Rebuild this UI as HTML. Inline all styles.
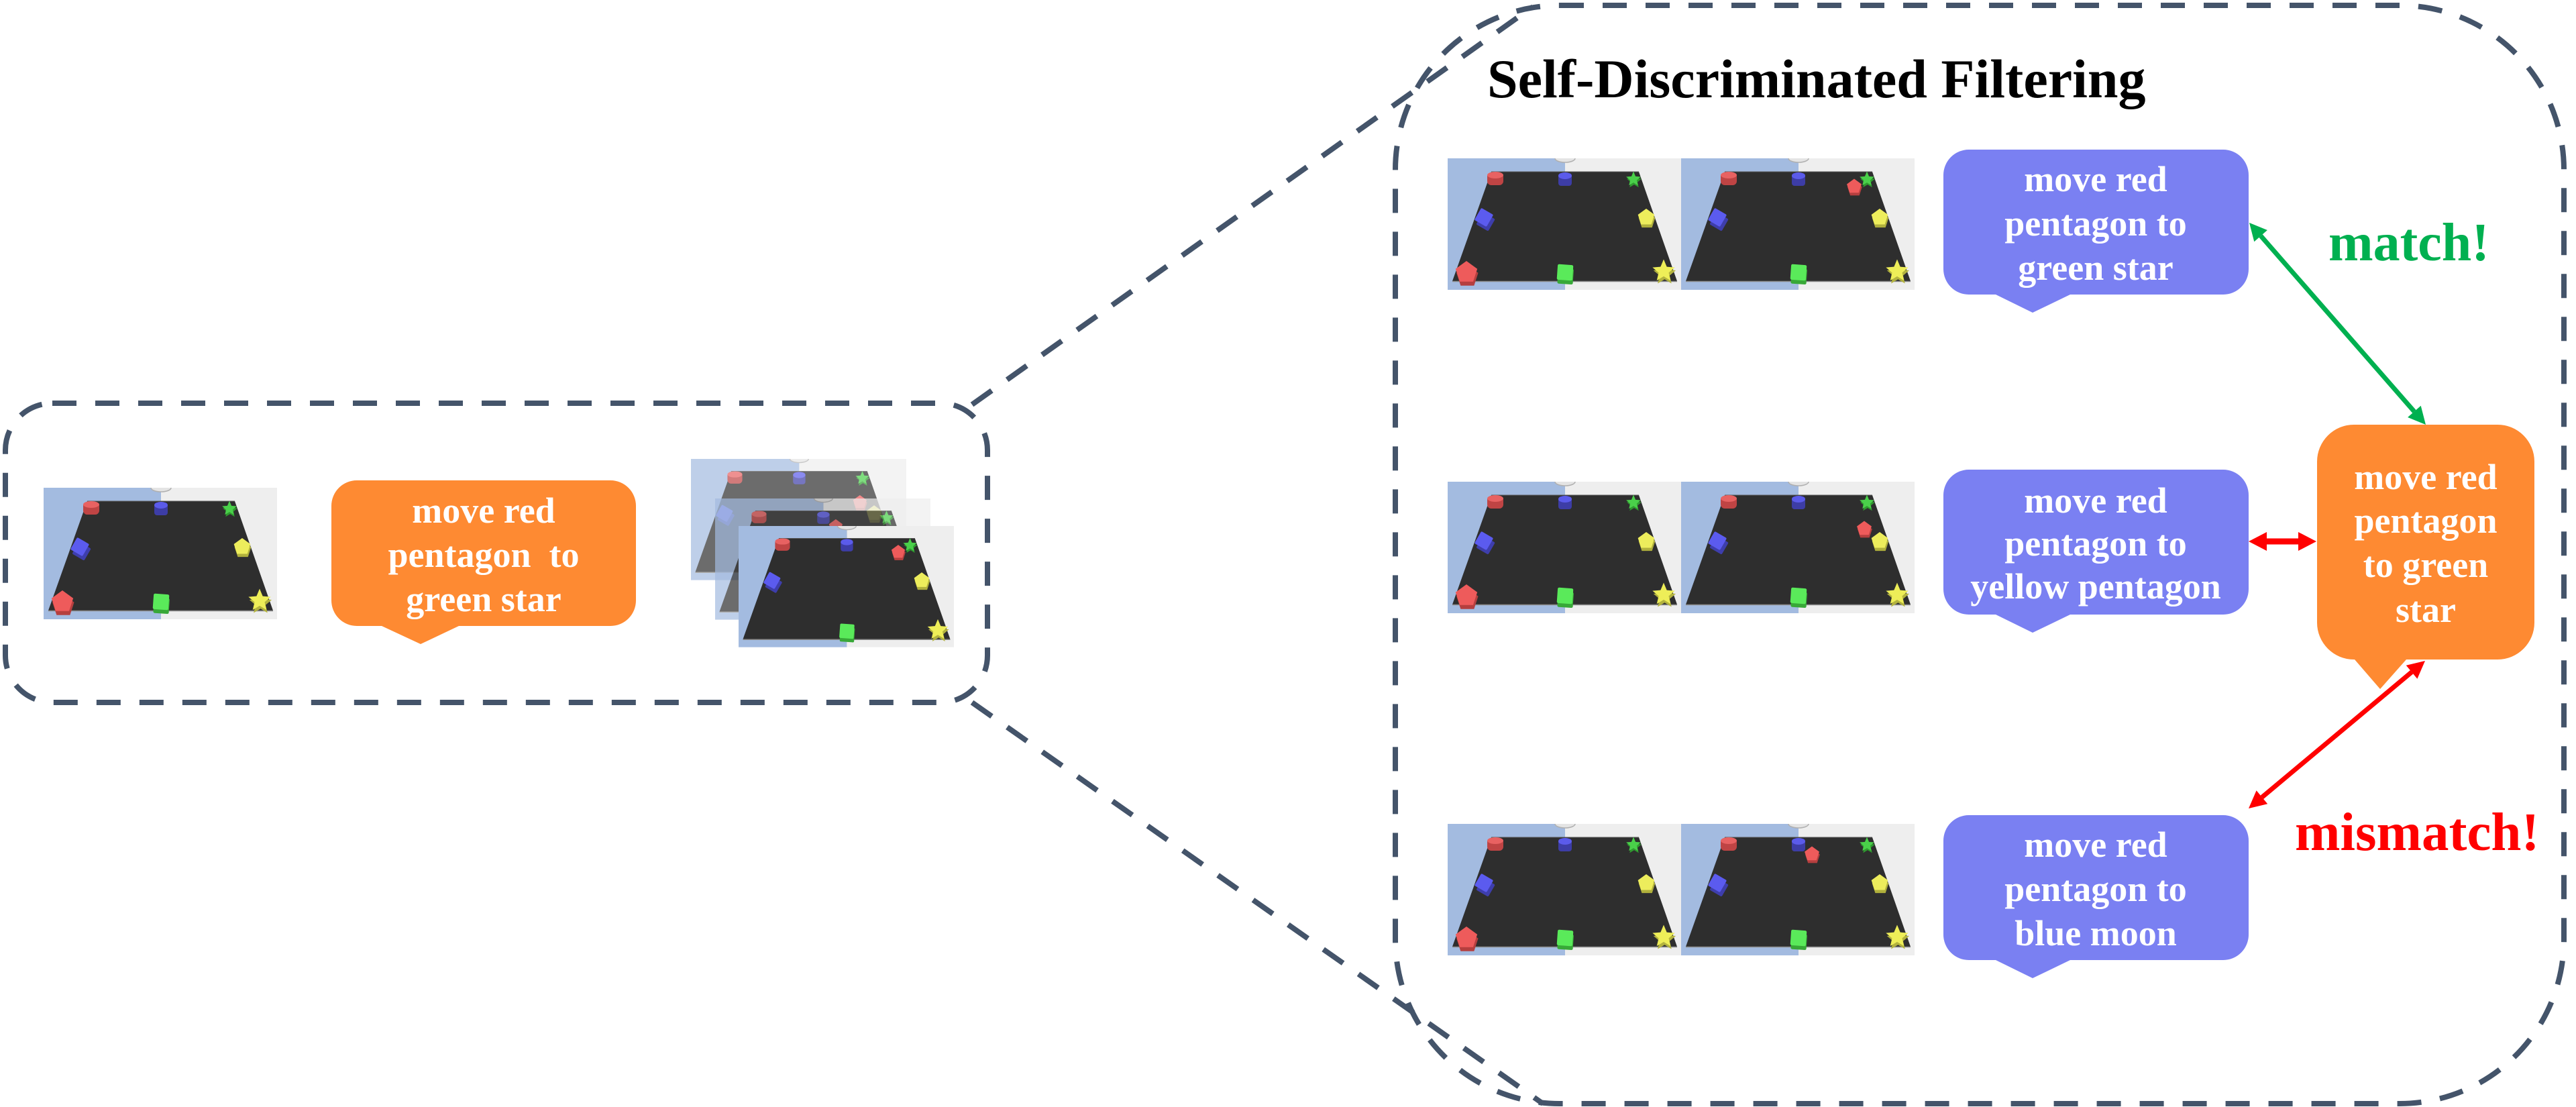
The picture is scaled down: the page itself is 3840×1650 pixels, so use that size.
<!DOCTYPE html>
<html>
<head>
<meta charset="utf-8">
<style>
  html, body { margin: 0; padding: 0; background: #ffffff; }
  body { width: 3840px; height: 1650px; overflow: hidden; }
  svg { display: block; }
  .t { font-family: "Liberation Serif", "Times New Roman", serif; font-weight: bold; }
  .w { fill: #ffffff; font-size: 54px; text-anchor: middle; }
</style>
</head>
<body>
<svg width="3840" height="1650" viewBox="0 0 3840 1650" xmlns="http://www.w3.org/2000/svg">
  <defs>
    <polygon id="pg" points="0,-10 9.51,-3.09 5.88,8.09 -5.88,8.09 -9.51,-3.09"/>
    <polygon id="st" points="0,-10 2.65,-3.64 9.51,-3.09 4.28,1.39 5.88,8.09 0,4.5 -5.88,8.09 -4.28,1.39 -9.51,-3.09 -2.65,-3.64"/>
    <rect id="cb" x="-8" y="-8" width="16" height="16" rx="1.5"/>
    <g id="rp">
      <use href="#pg" fill="#b53f3f" transform="translate(0.8,3.5)"/>
      <use href="#pg" fill="#ee5b5b"/>
    </g>
    <symbol id="sc" viewBox="0 0 348 196">
      <rect x="0" y="0" width="175" height="196" fill="#a3bbe0"/>
      <rect x="175" y="0" width="173" height="196" fill="#eeeeee"/>
      <ellipse cx="175" cy="0" rx="15" ry="6" fill="#e4e4e4" stroke="#b0b0b0" stroke-width="1.5"/>
      <polygon points="65,20 285,20 342,183 7,183" fill="#2e2e2e"/>
      <line x1="65" y1="20" x2="285" y2="20" stroke="#5a5a5a" stroke-width="1"/>
      <line x1="7" y1="183.5" x2="342" y2="183.5" stroke="#8c8c8c" stroke-width="1.6"/>
      <!-- red cylinder -->
      <g transform="translate(71,30)">
        <rect x="-12" y="-9" width="24" height="19" rx="6" fill="#bf4444"/>
        <ellipse cx="0" cy="-5" rx="12" ry="5" fill="#e86262"/>
      </g>
      <!-- blue cylinder -->
      <g transform="translate(175,31)">
        <rect x="-10" y="-9" width="20" height="19" rx="4" fill="#3d3da6"/>
        <ellipse cx="0" cy="-5" rx="10" ry="5" fill="#5b5bea"/>
      </g>
      <!-- green star -->
      <g transform="translate(277,31)">
        <use href="#st" fill="#2f9a2f" transform="translate(1,3) scale(1.15)"/>
        <use href="#st" fill="#4ad04a" transform="scale(1.15)"/>
      </g>
      <!-- blue cube -->
      <g transform="translate(54,88) scale(1.3)">
        <use href="#cb" fill="#3e3eac" transform="translate(2,5) rotate(30)"/>
        <use href="#cb" fill="#5b5bef" transform="rotate(30)"/>
      </g>
      <!-- yellow pentagon -->
      <g transform="translate(296,88) scale(1.3)">
        <use href="#pg" fill="#b0b03c" transform="translate(0.8,3.5)"/>
        <use href="#pg" fill="#eded5c"/>
      </g>
      <!-- green cube -->
      <g transform="translate(175,170) scale(1.45)">
        <use href="#cb" fill="#38a838" transform="translate(0.5,4) rotate(4)"/>
        <use href="#cb" fill="#5aea5a" transform="rotate(4)"/>
      </g>
      <!-- yellow star -->
      <g transform="translate(322,168) scale(1.75)">
        <use href="#st" fill="#b3b33e" transform="translate(0.8,2.5)"/>
        <use href="#st" fill="#eeee58"/>
      </g>
    </symbol>
  </defs>

  <!-- Dashed containers and connecting lines -->
  <g fill="none" stroke="#44546a" stroke-width="8" stroke-dasharray="36 28">
    <rect x="8" y="601" width="1464" height="446" rx="70" ry="70"/>
    <rect x="2080" y="8" width="1742" height="1637" rx="245" ry="245"/>
    <line x1="1449" y1="603" x2="2285" y2="10"/>
    <line x1="1449" y1="1047" x2="2300" y2="1645"/>
  </g>

  <!-- Left box: image -->
  <g transform="translate(65,727)">
    <use href="#sc" x="0" y="0" width="348" height="196"/>
    <use href="#rp" transform="translate(28,170) scale(1.7)"/>
  </g>

  <!-- Left orange bubble -->
  <path d="M 532,716 H 910 A 38 38 0 0 1 948,754 V 895 A 38 38 0 0 1 910,933 H 684 L 627,960 L 569,933 H 532 A 38 38 0 0 1 494,895 V 754 A 38 38 0 0 1 532,716 Z" fill="#fe8a32"/>
  <text class="t w" x="721" y="779">move red</text>
  <text class="t w" x="721" y="845">pentagon&#160; to</text>
  <text class="t w" x="721" y="911">green star</text>

  <!-- Stack of images -->
  <g transform="translate(1030,684) scale(0.9224)" opacity="0.7">
    <use href="#sc" x="0" y="0" width="348" height="196"/>
    <use href="#rp" transform="translate(273,70) scale(1.15)"/>
  </g>
  <g transform="translate(1066,743) scale(0.9224)" opacity="0.7">
    <use href="#sc" x="0" y="0" width="348" height="196"/>
    <use href="#rp" transform="translate(195,45) scale(1.15)"/>
  </g>
  <g transform="translate(1101,784) scale(0.9224)">
    <use href="#sc" x="0" y="0" width="348" height="196"/>
    <use href="#rp" transform="translate(258,42) scale(1.15)"/>
  </g>

  <!-- Title -->
  <text class="t" x="2217" y="145" font-size="82" fill="#000000">Self-Discriminated Filtering</text>

  <!-- Row 1 images -->
  <g transform="translate(2158,236)">
    <use href="#sc" x="0" y="0" width="348" height="196"/>
    <use href="#rp" transform="translate(28,170) scale(1.7)"/>
  </g>
  <g transform="translate(2506,236)">
    <use href="#sc" x="0" y="0" width="348" height="196"/>
    <use href="#rp" transform="translate(258,42) scale(1.15)"/>
  </g>
  <!-- Row 2 images -->
  <g transform="translate(2158,718)">
    <use href="#sc" x="0" y="0" width="348" height="196"/>
    <use href="#rp" transform="translate(28,170) scale(1.7)"/>
  </g>
  <g transform="translate(2506,718)">
    <use href="#sc" x="0" y="0" width="348" height="196"/>
    <use href="#rp" transform="translate(273,70) scale(1.15)"/>
  </g>
  <!-- Row 3 images -->
  <g transform="translate(2158,1228)">
    <use href="#sc" x="0" y="0" width="348" height="196"/>
    <use href="#rp" transform="translate(28,170) scale(1.7)"/>
  </g>
  <g transform="translate(2506,1228)">
    <use href="#sc" x="0" y="0" width="348" height="196"/>
    <use href="#rp" transform="translate(195,45) scale(1.15)"/>
  </g>

  <!-- Blue bubbles -->
  <path d="M 2935,223 H 3314 A 38 38 0 0 1 3352,261 V 401 A 38 38 0 0 1 3314,439 H 3086 L 3030,466 L 2975,439 H 2935 A 38 38 0 0 1 2897,401 V 261 A 38 38 0 0 1 2935,223 Z" fill="#7a80f2"/>
  <text class="t w" x="3124" y="285">move red</text>
  <text class="t w" x="3124" y="351">pentagon to</text>
  <text class="t w" x="3124" y="417">green star</text>

  <path d="M 2935,700 H 3314 A 38 38 0 0 1 3352,738 V 878 A 38 38 0 0 1 3314,916 H 3086 L 3030,943 L 2975,916 H 2935 A 38 38 0 0 1 2897,878 V 738 A 38 38 0 0 1 2935,700 Z" fill="#7a80f2"/>
  <text class="t w" x="3124" y="764">move red</text>
  <text class="t w" x="3124" y="828">pentagon to</text>
  <text class="t w" x="3124" y="892">yellow pentagon</text>

  <path d="M 2935,1215 H 3314 A 38 38 0 0 1 3352,1253 V 1393 A 38 38 0 0 1 3314,1431 H 3086 L 3030,1458 L 2975,1431 H 2935 A 38 38 0 0 1 2897,1393 V 1253 A 38 38 0 0 1 2935,1215 Z" fill="#7a80f2"/>
  <text class="t w" x="3124" y="1277">move red</text>
  <text class="t w" x="3124" y="1343">pentagon to</text>
  <text class="t w" x="3124" y="1409">blue moon</text>

  <!-- Right orange bubble -->
  <path d="M 3509,633 H 3723 A 55 55 0 0 1 3778,688 V 928 A 55 55 0 0 1 3723,983 H 3587 L 3548,1027 L 3510,983 H 3509 A 55 55 0 0 1 3454,928 V 688 A 55 55 0 0 1 3509,633 Z" fill="#fe8a32"/>
  <text class="t w" x="3616" y="729">move red</text>
  <text class="t w" x="3616" y="794">pentagon</text>
  <text class="t w" x="3616" y="860">to green</text>
  <text class="t w" x="3616" y="927">star</text>

  <!-- Green double arrow -->
  <line x1="3370.1" y1="351.6" x2="3598.9" y2="613.4" stroke="#00b050" stroke-width="7"/>
  <polygon points="3353,332 3360.3,360.2 3379.9,343.0" fill="#00b050"/>
  <polygon points="3616,633 3589.1,622.0 3608.7,604.8" fill="#00b050"/>

  <!-- Red horizontal double arrow -->
  <rect x="3377" y="802.5" width="51" height="9" fill="#ff0000"/>
  <polygon points="3352,807 3379,793 3379,821" fill="#ff0000"/>
  <polygon points="3453,807 3426,793 3426,821" fill="#ff0000"/>

  <!-- Red diagonal double arrow -->
  <line x1="3595.1" y1="1001.7" x2="3371.9" y2="1188.3" stroke="#ff0000" stroke-width="7"/>
  <polygon points="3615,985 3586.8,991.7 3603.4,1011.7" fill="#ff0000"/>
  <polygon points="3352,1205 3363.6,1178.3 3380.2,1198.3" fill="#ff0000"/>

  <!-- Labels -->
  <text class="t" x="3471" y="388" font-size="80" fill="#00b050">match!</text>
  <text class="t" x="3421" y="1267" font-size="81" fill="#ff0000">mismatch!</text>
</svg>
</body>
</html>
